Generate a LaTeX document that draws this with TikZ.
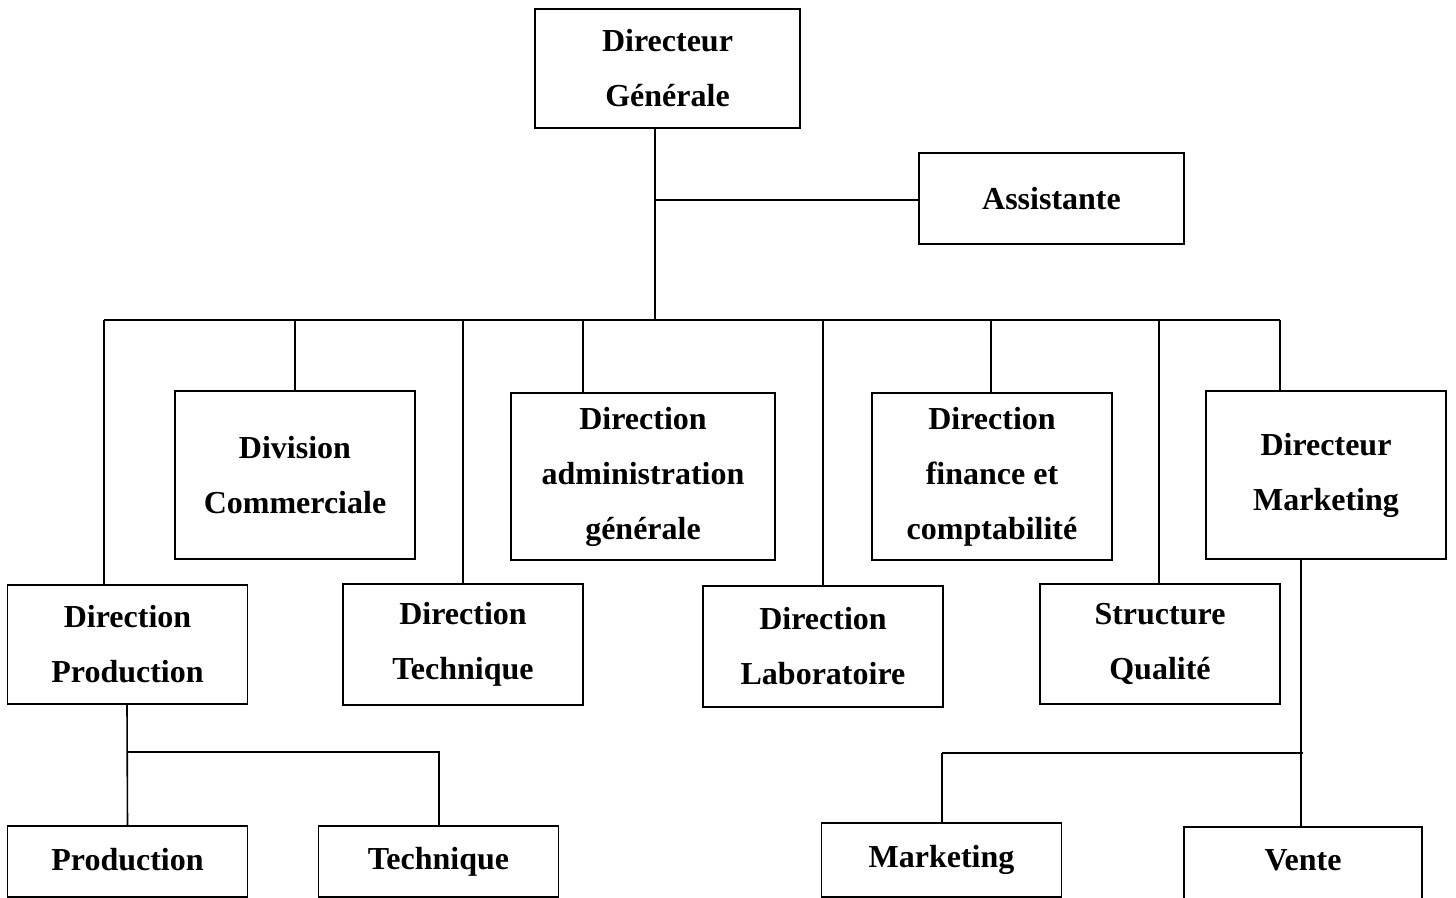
\documentclass[tikz,border=0pt]{standalone}
\usepackage{fontspec}
\setmainfont{Liberation Serif}
\usetikzlibrary{calc}

\tikzset{
  box/.style={draw, line width=0.8pt, minimum width=120pt, align=center,
    font=\fontsize{16}{27.5}\selectfont\bfseries, inner sep=0pt},
  link/.style={line width=0.8pt}
}

\begin{document}
\begin{tikzpicture}[x=0.5pt,y=-0.5pt]
\useasboundingbox (0,0) rectangle (1456,898);
\clip (0,0) rectangle (1456,898);

% top
\node (dg) [box, minimum width=132.5pt, minimum height=59.5pt] at (667.5,68.5) {Directeur\\G\'en\'erale};
\node (ast) [box, minimum width=132.5pt, minimum height=45.5pt] at (1051.5,198.5) {Assistante};

% second row
\node (dc) [box, minimum height=84pt] at (295,475) {Division\\Commerciale};
\node (da) [box, minimum width=132pt, minimum height=83.5pt] at (643,476.5) {Direction\\administration\\g\'en\'erale};
\node (df) [box, minimum height=83.5pt] at (992,476.5) {Direction\\finance et\\comptabilit\'e};
\node (dm) [box, minimum height=84pt] at (1326,475) {Directeur\\Marketing};

% third row
\node (dp) [box, minimum height=59.5pt] at (127.5,644.5) {Direction\\Production};
\node (dt) [box, minimum height=60.5pt] at (463,644.5) {Direction\\Technique};
\node (dl) [box, minimum height=60.5pt] at (823,646.5) {Direction\\Laboratoire};
\node (sq) [box, minimum height=60pt] at (1160,644) {Structure\\Qualit\'e};

% bottom row
\node (pr) [box, minimum height=35.5pt] at (127.5,861.5) {\raisebox{2.5pt}{Production}};
\node (te) [box, minimum height=35.5pt] at (438.5,861.5) {\raisebox{1.5pt}{Technique}};
\node (mk) [box, minimum height=37pt] at (941.5,860) {\raisebox{1.5pt}{Marketing}};
\node (ve) [box, minimum width=119pt, minimum height=60pt] at (1303,887) {\raisebox{27pt}{Vente}};

% connectors
\coordinate (b0) at (655,320);
\coordinate (bl) at (104,320);
\coordinate (br) at (1280,320);
\draw[link] (b0 |- dg.south) -- (b0);
\draw[link] (655,200) -- (655,200 -| ast.west);
\draw[link] (bl) -- (br);
\foreach \x/\n in {104/dp, 295/dc, 463/dt, 583/da, 823/dl, 991/df, 1159/sq, 1280/dm}
  \draw[link] (\x,320) -- (\x,320 |- \n.north);

\coordinate (pj) at (127,752);
\draw[link] (pj |- dp.south) -- (pr.north);
\draw[link] (pj) -- (439,752) -- (439,752 |- te.north);

\coordinate (mj) at (1301,753);
\draw[link] (mj |- dm.south) -- (mj |- ve.north);
\draw[link] (942,753) -- (1303,753);
\draw[link] (942,753) -- (942,753 |- mk.north);
\end{tikzpicture}
\end{document}
